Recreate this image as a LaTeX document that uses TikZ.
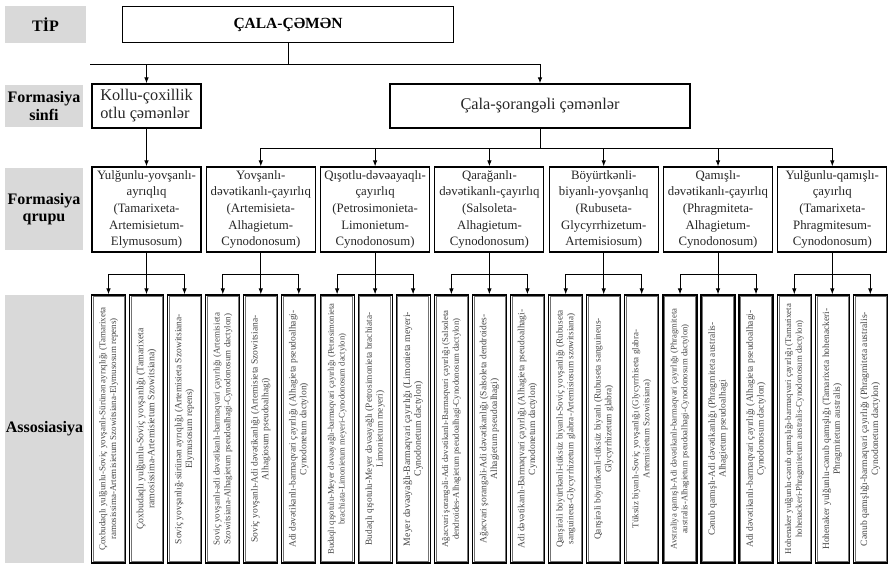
\documentclass[tikz,border=0pt]{standalone}
\usepackage{fontspec}
\setmainfont{Liberation Serif}
\usetikzlibrary{arrows.meta}
\definecolor{lblgray}{HTML}{D9D9D9}
\tikzset{
  lbl/.style={fill=lblgray, font=\bfseries\fontsize{16}{17.5}\selectfont, align=center, inner sep=0pt},
  topbox/.style={draw, line width=1.1pt, inner sep=0pt, font=\bfseries\fontsize{15.5}{17}\selectfont},
  classbox/.style={draw, line width=1.1pt, inner sep=0pt, minimum height=44pt, font=\fontsize{16.3}{18}\selectfont, text=black!85},
  grpbox/.style={draw, line width=1.1pt, minimum width=109pt, minimum height=85pt, align=center, font=\fontsize{12.8}{16.6}\selectfont, text=black!85, inner sep=0pt},
  assobox/.style={draw, line width=1.1pt, minimum width=34pt, minimum height=268pt, inner sep=0pt},
  assotext/.style={rotate=90, align=center, text=black!72, inner sep=0pt},
  innerln/.style={draw=black!55, line width=0.45pt},
  conn/.style={line width=1pt},
  arr/.style={line width=1pt, -{Latex[length=6pt,width=4.5pt]}},
}
% name, x, line1, line2, font size
\newcommand\assoc[5]{%
  \node[assobox] (#1) at (#2,429) {};
  \node[assotext, font=\fontsize{#5}{10.8}\selectfont] (#1t) at (#1) {#3\\#4};
  \draw[innerln] ([xshift=2pt,yshift=-2pt]#1.north west) rectangle ([xshift=-2pt,yshift=2pt]#1.south east);
}
\begin{document}
\begin{tikzpicture}[x=1pt,y=-1pt]
\fill[white] (0,0) rectangle (893,565);
\useasboundingbox (0,0) rectangle (893,565);

% left labels
\node[lbl, minimum width=81pt, minimum height=37pt] (ltip) at (45.5,24.5) {TİP};
\node[lbl, minimum width=78pt, minimum height=42pt] (lsinfi) at (44,106) {Formasiya\\sinfi};
\node[lbl, minimum width=78pt, minimum height=82pt] (lqrupu) at (44,209) {Formasiya\\qrupu};
\node[lbl, minimum width=79pt, minimum height=268pt] (lasso) at (44.5,429) {Assosiasiya};

% top
\node[topbox, minimum width=331pt, minimum height=36pt] (top) at (288,24.5) {ÇALA-ÇƏMƏN};
\node[classbox, minimum width=109pt, align=left] (kollu) at (146.5,106) {Kollu-çoxillik\\otlu çəmənlər};
\node[classbox, minimum width=300pt] (cala) at (540,106) {Çala-şorangəli çəmənlər};

\coordinate (busA) at (0,64);
\coordinate (busAL) at (90,64);
\coordinate (busAR) at (540,64);
\draw[conn] (top.south) -- (top.south |- busA);
\draw[conn] (busAL) -- (busAR);
\draw[arr] (kollu.north |- busA) -- (kollu.north);
\draw[arr] (cala.north |- busA) -- (cala.north);

% groups
\node[grpbox] (g1) at (146.5,209.5) {Yulğunlu-yovşanlı-\\ayrıqlıq\\(Tamarixeta-\\Artemisietum-\\Elymusosum)};
\node[grpbox] (g2) at (260.8,209.5) {Yovşanlı-\\dəvətikanlı-çayırlıq\\(Artemisieta-\\Alhagietum-\\Cynodonosum)};
\node[grpbox] (g3) at (375.1,209.5) {Qışotlu-dəvəayaqlı-\\çayırlıq\\(Petrosimonieta-\\Limonietum-\\Cynodonosum)};
\node[grpbox] (g4) at (489.4,209.5) {Qarağanlı-\\dəvətikanlı-çayırlıq\\(Salsoleta-\\Alhagietum-\\Cynodonosum)};
\node[grpbox] (g5) at (603.7,209.5) {Böyürtkənli-\\biyanlı-yovşanlıq\\(Rubuseta-\\Glycyrrhizetum-\\Artemisiosum)};
\node[grpbox] (g6) at (718.0,209.5) {Qamışlı-\\dəvətikanlı-çayırlıq\\(Phragmiteta-\\Alhagietum-\\Cynodonosum)};
\node[grpbox] (g7) at (832.3,209.5) {Yulğunlu-qamışlı-\\çayırlıq\\(Tamarixeta-\\Phragmitesum-\\Cynodonosum)};

\draw[arr] (kollu.south) -- (g1.north);
\coordinate (busB) at (0,148);
\draw[conn] (cala.south) -- (cala.south |- busB);
\draw[conn] (g2.north |- busB) -- (g7.north |- busB);
\foreach \g in {g2,g3,g4,g5,g6,g7}{
  \draw[arr] (\g.north |- busB) -- (\g.north);
}

% associations
\assoc{a11}{108.5}{Çoxbudaqlı yulğunlu-Soviç yovşanlı-Sürünən ayrıqlığı (Tamarixeta}{ramosissima-Artemisietum Szowitsiana-Elymusosum repens)}{9}
\assoc{a12}{146.5}{Çoxbudaqlı yulğunlu-Soviç yovşanlığı (Tamarixeta}{ramosissima-Artemisietum Szowitsiana)}{9.8}
\assoc{a13}{184.5}{Soviç yovşanlığ-sürünən ayrıqlığı (Artemisieta Szowitsiana-}{Elymusosum repens)}{9.5}

\assoc{a21}{222.8}{Soviç yovşanlı-adi dəvətikanlı-barmaqvari çayırlığı (Artemisieta}{Szowitsiana-Alhagietum pseudoalhagi-Cynodonosum dactylon)}{9}
\assoc{a22}{260.8}{Soviç yovşanlı-Adi dəvətikanlığı (Artemisieta Szowitsiana-}{Alhagiosum pseudoalhagi)}{9.5}
\assoc{a23}{298.8}{Adi dəvətikanlı-barmaqvari çayırlığı (Alhagieta pseudoalhagi-}{Cynodonetum dactylon)}{9.5}

\assoc{a31}{337.1}{Budaqlı qışotulu-Meyer dəvəayağlı-barmaqvari çayırlığı (Petrosimonieta}{brachiata-Limonietum meyeri-Cynodonosum dactylon)}{8.6}
\assoc{a32}{375.1}{Budaqlı qışotulu-Meyer dəvəayağlı (Petrosimonieta brachiata-}{Limonietum meyeri)}{9.3}
\assoc{a33}{413.1}{Meyer dəvəayağlı-Barmaqvari çayırlığı (Limonieta meyeri-}{Cynodonetum dactylon)}{9.8}

\assoc{a41}{451.4}{Ağacvari şorangəli-Adi dəvətikanlı-Barmaqvari çayırlığı (Salsoleta}{dendroides-Alhagietum pseudoalhagi-Cynodonosum dactylon)}{8.8}
\assoc{a42}{489.4}{Ağacvari şorangəli-Adi dəvətikanlığı (Salsoleta dendroides-}{Alhagietum pseudoalhagi)}{9.5}
\assoc{a43}{527.4}{Adi dəvətikanlı-Barmaqvari çayırlığı (Alhagieta pseudoalhagi-}{Cynodonetum dactylon)}{9.5}

\assoc{a51}{565.7}{Qanşirəli böyürtkənli-tüksüz biyanlı-Soviç yovşanlığı (Rubuseta}{sanguineus-Glycyrrhizetum glabra-Artemisiosum szowitsiana)}{9.2}
\assoc{a52}{603.7}{Qanşirəli böyürtkənli-tüksüz biyanlı (Rubuseta sanguineus-}{Glycyrrhizetum glabra)}{9.3}
\assoc{a53}{641.7}{Tüksüz biyanlı-Soviç yovşanlığı (Glycyrrhiseta glabra-}{Artemisietum Szowitsiana)}{9}

\assoc{a61}{680.0}{Avstraliya qamışlı-Adi dəvətikanlı-barmaqvari çayırlığı (Phragmiteta}{australis-Alhagietum pseudoalhagi-Cynodonosum dactylon)}{8.7}
\assoc{a62}{718.0}{Cənub qamışlı-Adi dəvətikanlığı (Phragmiteta australis-}{Alhagietum pseudoalhagi}{9.5}
\assoc{a63}{756.0}{Adi dəvətikanlı-barmaqvari çayırlığı (Alhagieta pseudoalhagi-}{Cynodonosum dactylon)}{9.5}

\assoc{a71}{794.3}{Hohenaker yulğunlu-cənub qamışlığı-barmaqvari çayırlığı (Tamarixeta}{hohenackeri-Phragmitetum australis-Cynodonosum dactylon)}{8.8}
\assoc{a72}{832.3}{Hohenaker yulğunlu-cənub qamışlığı (Tamarixeta hohenackeri-}{Phragmitetum australis)}{9.5}
\assoc{a73}{870.3}{Cənub qamışlığı-barmaqvari çayırlığı (Phragmiteta australis-}{Cynodonetum dactylon)}{9.6}

\coordinate (busC) at (0,274);
\foreach \i in {1,...,7}{
  \draw[conn] (g\i.south) -- (g\i.south |- busC);
  \draw[conn] (a\i1.north |- busC) -- (a\i3.north |- busC);
  \foreach \j in {1,2,3}{
    \draw[arr] (a\i\j.north |- busC) -- (a\i\j.north);
  }
}
\end{tikzpicture}
\end{document}
